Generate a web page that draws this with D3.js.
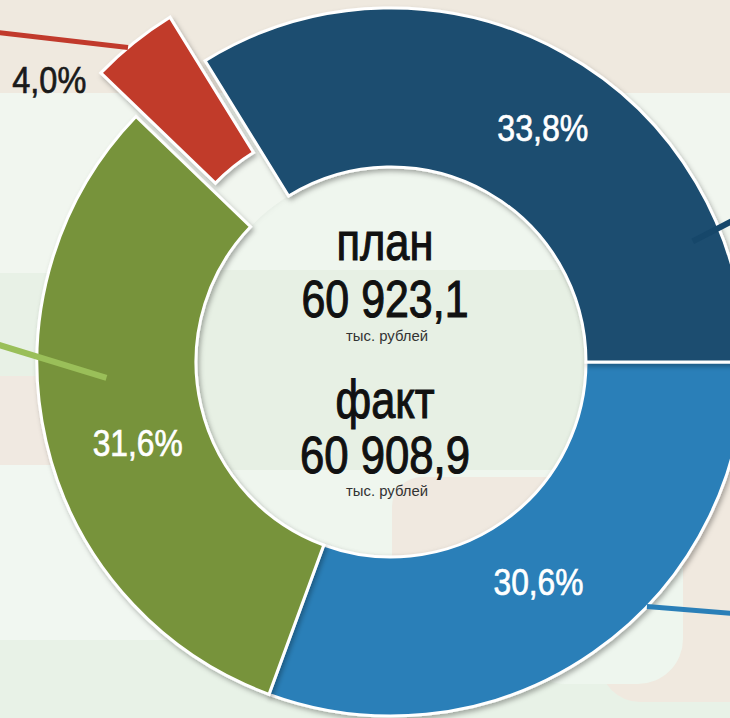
<!DOCTYPE html>
<html>
<head>
<meta charset="utf-8">
<script src="https://cdn.jsdelivr.net/npm/d3@7"></script>
<style>
  html, body { margin: 0; padding: 0; background: #f1f6ef; }
  svg { display: block; }
  text { font-family: "Liberation Sans", Arial, sans-serif; }
</style>
</head>
<body>
<svg id="chart" width="730" height="718"></svg>
<script>
// ---------- data ----------
const categories = ["Сегмент 1", "Сегмент 2", "Сегмент 3", "Сегмент 4"];
const values = [30.6, 31.6, 4.0, 33.8];
const valueLabels = ["30,6%", "31,6%", "4,0%", "33,8%"];
const centerTitles = ["план", "факт"];
const centerValues = ["60 923,1", "60 908,9"];
const centerUnits = ["тыс. рублей", "тыс. рублей"];

// ---------- styles / layout ----------
const colors = ["#2a7fb8", "#77933b", "#c13a2c", "#1b4d6f"];
const lineColors = ["#2a7fb8", "#9abf59", "#c13a2c", "#16476a"];
const lineWidths = [5, 6, 5, 6];
const labelColors = ["#ffffff", "#ffffff", "#1a1a1a", "#ffffff"];
const explode = [0, 0, 56, 0];
// leader lines: [startRadius, startAngleDeg, endRadius, endAngleDeg]
const leaders = [[354, 133.7, 448, 124.5], [285, 266.8, 412, 273.2], [410, 320.1, 528, 308.9], [325, 68.2, 400, 67.2]];
// label placement: radius and angular shift from slice middle
const labelRadius = [265, 266, 443, 279];
const labelShift = [1.1, -4.8, -11.6, 3.8];
const labelWidths = [90, 90, 74, 91];

const W = 730, H = 718;
const cx = 391, cy = 362, rIn = 195, rOut = 354;

const svg = d3.select("#chart");
const defs = svg.append("defs");
const f = defs.append("filter").attr("id", "shadow").attr("x", "-20%").attr("y", "-20%").attr("width", "140%").attr("height", "140%");
f.append("feDropShadow").attr("dx", 2).attr("dy", 3).attr("stdDeviation", 2.5)
  .attr("flood-color", "#000").attr("flood-opacity", 0.3);
defs.append("clipPath").attr("id", "hole").append("circle").attr("cx", cx).attr("cy", cy).attr("r", rIn);

// ---------- background ----------
const bg = svg.append("g");
const bands = [
  [0, 0, W, 93, "#efe9df"],
  [0, 93, W, 180, "#f1f6ef"],
  [0, 273, 420, 103, "#e8f1e6"],
  [0, 376, 300, 89, "#f0e9e1"],
  [0, 465, W, 175, "#f1f7f1"],
  [0, 640, W, 78, "#e8f2e7"]
];
bg.selectAll("rect.band").data(bands).join("rect").attr("class", "band")
  .attr("x", d => d[0]).attr("y", d => d[1]).attr("width", d => d[2]).attr("height", d => d[3]).attr("fill", d => d[4]);
bg.append("rect").attr("x", 600).attr("y", 470).attr("width", 180).attr("height", 232).attr("rx", 40).attr("fill", "#f0e9df");
bg.append("rect").attr("x", 520).attr("y", 440).attr("width", 163).attr("height", 244).attr("rx", 45).attr("fill", "#eef6ee");

// inner circle
const hole = svg.append("g").attr("clip-path", "url(#hole)");
hole.append("rect").attr("x", cx - rIn).attr("y", cy - rIn).attr("width", 2 * rIn).attr("height", 2 * rIn).attr("fill", "#eff6ee");
hole.append("rect").attr("x", cx - rIn).attr("y", 270).attr("width", 2 * rIn).attr("height", 200).attr("fill", "#e7f0e4");
hole.append("rect").attr("x", 392).attr("y", 477).attr("width", 260).attr("height", 200).attr("rx", 30).attr("fill", "#f0e9e0");
hole.append("circle").attr("cx", cx).attr("cy", cy).attr("r", rIn + 6)
  .attr("fill", "none").attr("stroke", "#000").attr("stroke-opacity", 0.08).attr("stroke-width", 10)
  .style("filter", "blur(3px)");

// ---------- donut ----------
const pie = d3.pie().sort(null).value(d => d)
  .startAngle(Math.PI / 2).endAngle(Math.PI / 2 + 2 * Math.PI);
const arcs = pie(values);
const arc = d3.arc().innerRadius(rIn).outerRadius(rOut);
const rad = a => a * Math.PI / 180;
const polar = (r, aDeg) => [Math.sin(rad(aDeg)) * r, -Math.cos(rad(aDeg)) * r];

const g = svg.append("g").attr("transform", `translate(${cx},${cy})`);

g.selectAll("path.slice").data(arcs).join("path").attr("class", "slice")
  .attr("d", arc)
  .attr("transform", (d, i) => {
    const m = (d.startAngle + d.endAngle) / 2;
    return `translate(${Math.sin(m) * explode[i]},${-Math.cos(m) * explode[i]})`;
  })
  .attr("fill", (d, i) => colors[i])
  .attr("stroke", "#fff").attr("stroke-width", 3).attr("stroke-linejoin", "miter")
  .attr("filter", "url(#shadow)");

// leader lines
g.selectAll("line.leader").data(arcs).join("line").attr("class", "leader")
  .attr("x1", (d, i) => polar(leaders[i][0], leaders[i][1])[0])
  .attr("y1", (d, i) => polar(leaders[i][0], leaders[i][1])[1])
  .attr("x2", (d, i) => polar(leaders[i][2], leaders[i][3])[0])
  .attr("y2", (d, i) => polar(leaders[i][2], leaders[i][3])[1])
  .attr("stroke", (d, i) => lineColors[i]).attr("stroke-width", (d, i) => lineWidths[i]);

// value labels
g.selectAll("text.val").data(arcs).join("text").attr("class", "val")
  .each(function (d, i) {
    const mid = (d.startAngle + d.endAngle) / 2 * 180 / Math.PI + labelShift[i];
    const p = polar(labelRadius[i], mid);
    d3.select(this).attr("x", p[0]).attr("y", p[1] + 13);
  })
  .attr("text-anchor", "middle")
  .attr("font-size", 37)
  .attr("textLength", (d, i) => labelWidths[i]).attr("lengthAdjust", "spacingAndGlyphs")
  .attr("fill", (d, i) => labelColors[i])
  .attr("stroke", (d, i) => labelColors[i]).attr("stroke-width", 0.7)
  .text((d, i) => valueLabels[i]);

// ---------- centre text ----------
const c = svg.append("g").attr("fill", "#111");
const tx = 385;
const blocks = [{ t: 260, v: 317, u: 341, tw: 97, vw: 167 }, { t: 418, v: 473, u: 496, tw: 99, vw: 170 }];
centerTitles.forEach((s, i) => {
  const b = blocks[i];
  c.append("text").attr("x", tx).attr("y", b.t).attr("text-anchor", "middle").attr("font-size", 53)
    .attr("stroke", "#111").attr("stroke-width", 1.1)
    .attr("textLength", b.tw).attr("lengthAdjust", "spacingAndGlyphs").text(s);
  c.append("text").attr("x", tx).attr("y", b.v).attr("text-anchor", "middle").attr("font-size", 51)
    .attr("stroke", "#111").attr("stroke-width", 1.1)
    .attr("textLength", b.vw).attr("lengthAdjust", "spacingAndGlyphs").text(centerValues[i]);
  c.append("text").attr("x", tx + 2).attr("y", b.u).attr("text-anchor", "middle").attr("font-size", 14)
    .attr("fill", "#333").attr("textLength", 82).attr("lengthAdjust", "spacingAndGlyphs").text(centerUnits[i]);
});
</script>
</body>
</html>
